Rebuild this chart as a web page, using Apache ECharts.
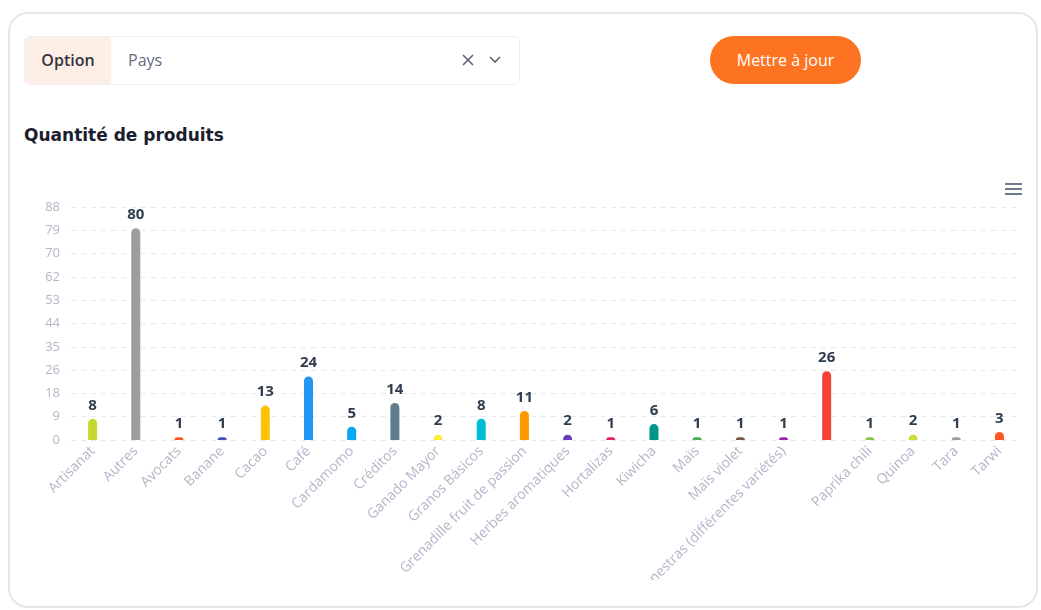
<!DOCTYPE html>
<html>
<head>
<meta charset="utf-8">
<script src="https://cdn.jsdelivr.net/npm/echarts@6/dist/echarts.min.js"></script>
<style>
  body { margin:0; background:#fff; font-family:"Open Sans", "Noto Sans", sans-serif; }
  #card { position:absolute; left:8px; top:12px; width:1026px; height:592px; border:2px solid #e6e6e8; border-radius:20px; background:#fff; overflow:hidden; }
  #select { position:absolute; left:24px; top:36px; width:494px; height:47px; border:1px solid #eeeff3; border-radius:6px; background:#fff; overflow:hidden; }
  #opt { position:absolute; left:0; top:0; width:86px; height:47px; background:#fdefe6; color:#34343f; font-weight:600; font-size:16px; line-height:47px; text-align:center; }
  #pays { position:absolute; left:103px; top:0; line-height:47px; font-size:16px; color:#666b80; }
  #x { position:absolute; left:436px; top:16px; }
  #chev { position:absolute; left:463px; top:18px; }
  #btn { position:absolute; left:710px; top:36px; width:151px; height:48px; border-radius:24px; background:#fd7322; color:#fff; font-size:16px; font-weight:500; line-height:48px; text-align:center; }
  #title { position:absolute; left:24px; top:125px; font-size:17px; font-weight:700; color:#1c1d2e; font-family:"DejaVu Sans", sans-serif; }
  #chart { position:absolute; left:0; top:150px; width:1041px; height:430px; }
</style>
</head>
<body>
<div id="card"></div>
<div id="select"><div id="opt">Option</div><div id="pays">Pays</div>
  <svg id="x" width="14" height="14"><path d="M2 2 L12 12 M12 2 L2 12" stroke="#5f6375" stroke-width="1.6"/></svg>
  <svg id="chev" width="14" height="10"><path d="M2 2 L7 7 L12 2" stroke="#5f6375" stroke-width="1.6" fill="none"/></svg>
</div>
<div id="btn">Mettre à jour</div>
<div id="title">Quantité de produits</div>
<div id="chart"></div>
<script>
var categories = ['Artisanat','Autres','Avocats','Banane','Cacao','Café','Cardamomo','Créditos','Ganado Mayor','Granos Básicos','Grenadille fruit de passion','Herbes aromatiques','Hortalizas','Kiwicha','Maïs','Maïs violet','Menestras (différentes variétés)','Miel','Paprika chili','Quinoa','Tara','Tarwi'];
var values = [8,80,1,1,13,24,5,14,2,8,11,2,1,6,1,1,1,26,1,2,1,3];
var colors = ['#c5d82e','#9e9e9e','#ff5722','#3f51b5','#ffc107','#2196f3','#03a9f4','#607d8b','#ffeb3b','#00bcd4','#ff9800','#673ab7','#e91e63','#009688','#4caf50','#795548','#9c27b0','#f44336','#8bc34a','#cddc39','#9e9e9e','#ff5722'];
var hiddenLabels = ['Miel'];

var chart = echarts.init(document.getElementById('chart'));

option = {
  animation: false,
  grid: { left: 71, top: 57, width: 950, height: 233, outerBoundsMode: 'none', containLabel: false },
  xAxis: {
    type: 'category',
    data: categories,
    axisLine: { show: false },
    axisTick: { show: false },
    axisLabel: {
      rotate: 45,
      margin: 9,
      color: '#b3b6c8',
      fontSize: 14,
      fontFamily: 'Open Sans',
      interval: function (i, name) { return hiddenLabels.indexOf(name) < 0; }
    }
  },
  yAxis: {
    type: 'value',
    min: 0,
    max: 88,
    interval: 8.8,
    axisLabel: {
      color: '#b3b6c8',
      fontSize: 13,
      fontFamily: 'Open Sans',
      margin: 11,
      formatter: function (v) { return Math.round(v); }
    },
    splitLine: { lineStyle: { color: '#e8e9ee', type: [5, 5] } }
  },
  series: [{
    type: 'bar',
    barWidth: 9,
    data: values.map(function (v, i) {
      return { value: v, itemStyle: { color: colors[i] } };
    }),
    itemStyle: { borderRadius: [5, 5, 0, 0] },
    label: {
      show: true,
      position: 'top',
      distance: 6,
      color: '#2f3d4f',
      fontSize: 15,
      fontWeight: 'bold',
      fontFamily: 'Open Sans'
    }
  }],
  graphic: [
    { type: 'rect', left: 1005, top: 33, shape: { width: 17, height: 2 }, style: { fill: '#6e7a8c' } },
    { type: 'rect', left: 1005, top: 38, shape: { width: 17, height: 2 }, style: { fill: '#6e7a8c' } },
    { type: 'rect', left: 1005, top: 43, shape: { width: 17, height: 2 }, style: { fill: '#6e7a8c' } }
  ]
};
chart.setOption(option);
</script>
</body>
</html>
